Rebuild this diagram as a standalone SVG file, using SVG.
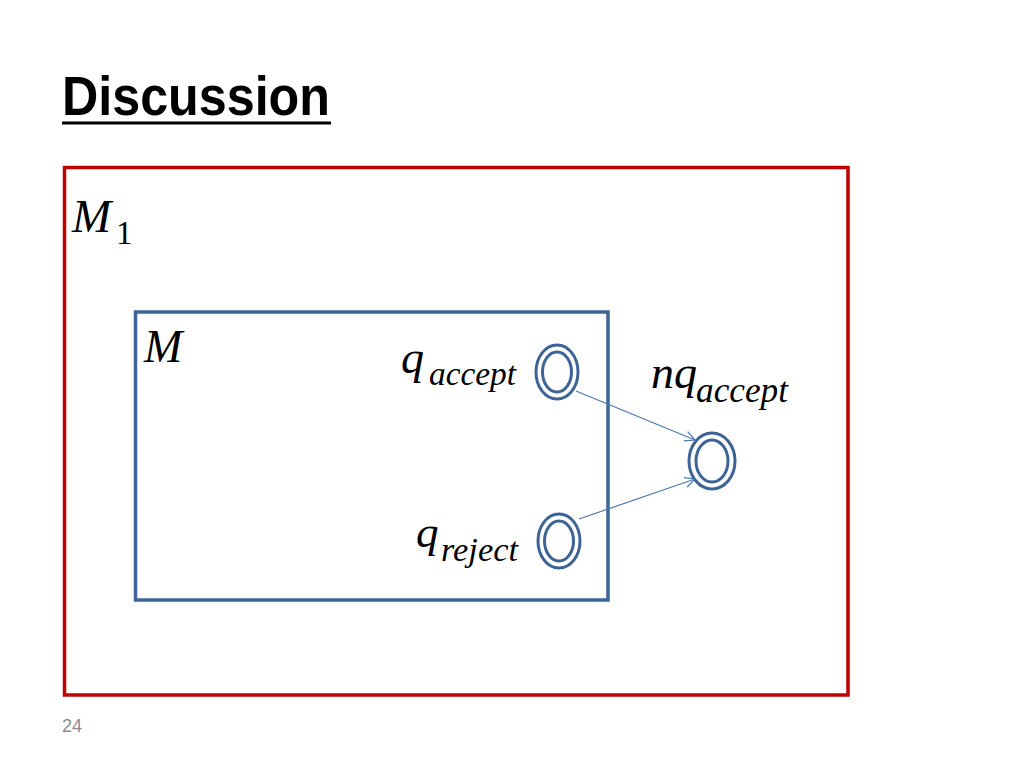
<svg xmlns="http://www.w3.org/2000/svg" width="1024" height="768" viewBox="0 0 1024 768">
  <style>
    .title { font-family: "Liberation Sans", Arial, sans-serif; font-weight: bold; font-size: 56px; fill: #000; }
    .math { font-family: "Liberation Serif", "Times New Roman", serif; font-style: italic; fill: #000; }
    .num { font-family: "Liberation Serif", "Times New Roman", serif; fill: #000; }
    .page { font-family: "Liberation Sans", Arial, sans-serif; font-size: 18px; fill: #8b8b8b; }
    .state { fill: none; stroke: #3d6494; stroke-width: 3; }
    .edge { fill: none; stroke: #4a78b0; stroke-width: 1.2; marker-end: url(#arr); }
  </style>
  <defs>
    <marker id="arr" viewBox="0 0 12 12" refX="11" refY="6" markerWidth="12" markerHeight="12" markerUnits="userSpaceOnUse" orient="auto">
      <path d="M1,1 L11,6 L1,11" fill="none" stroke="#4a78b0" stroke-width="1.2"/>
    </marker>
  </defs>
  <rect width="1024" height="768" fill="#ffffff"/>

  <g id="title">
    <text class="title" x="62" y="115" textLength="268" lengthAdjust="spacingAndGlyphs">Discussion</text>
    <line x1="62" y1="123" x2="331" y2="123" stroke="#000" stroke-width="3"/>
  </g>

  <g id="M1">
    <rect x="64.5" y="167.5" width="783.5" height="527.5" fill="none" stroke="#c00000" stroke-width="3.5"/>
    <text class="math" x="72" y="232" font-size="47">M</text>
    <text class="num" x="116" y="244" font-size="33">1</text>
  </g>

  <g id="M">
    <rect x="135.5" y="312" width="472.5" height="288" fill="none" stroke="#3e6598" stroke-width="3.5"/>
    <text class="math" x="144" y="362" font-size="46">M</text>
  </g>

  <g id="q_accept">
    <ellipse class="state" cx="557" cy="372" rx="21" ry="27"/>
    <ellipse class="state" cx="557" cy="372" rx="14.5" ry="20"/>
    <text class="math" x="401" y="373" font-size="46">q</text>
    <text class="math" x="429" y="385" font-size="33" textLength="87" lengthAdjust="spacingAndGlyphs">accept</text>
  </g>

  <g id="q_reject">
    <ellipse class="state" cx="559" cy="541" rx="21" ry="27"/>
    <ellipse class="state" cx="559" cy="541" rx="14.5" ry="20"/>
    <text class="math" x="416" y="547" font-size="45">q</text>
    <text class="math" x="441" y="561" font-size="33" textLength="77" lengthAdjust="spacingAndGlyphs">reject</text>
  </g>

  <g id="nq_accept">
    <ellipse class="state" cx="712" cy="461" rx="23" ry="28"/>
    <ellipse class="state" cx="712" cy="461" rx="16" ry="21"/>
    <text class="math" x="651" y="388" font-size="46">nq</text>
    <text class="math" x="696" y="402" font-size="35" textLength="92" lengthAdjust="spacingAndGlyphs">accept</text>
  </g>

  <g id="connectors">
    <line class="edge" x1="576" y1="391" x2="695" y2="440"/>
    <line class="edge" x1="579" y1="519" x2="695" y2="479"/>
  </g>

  <g id="page-number">
    <text class="page" x="62" y="732">24</text>
  </g>
</svg>
